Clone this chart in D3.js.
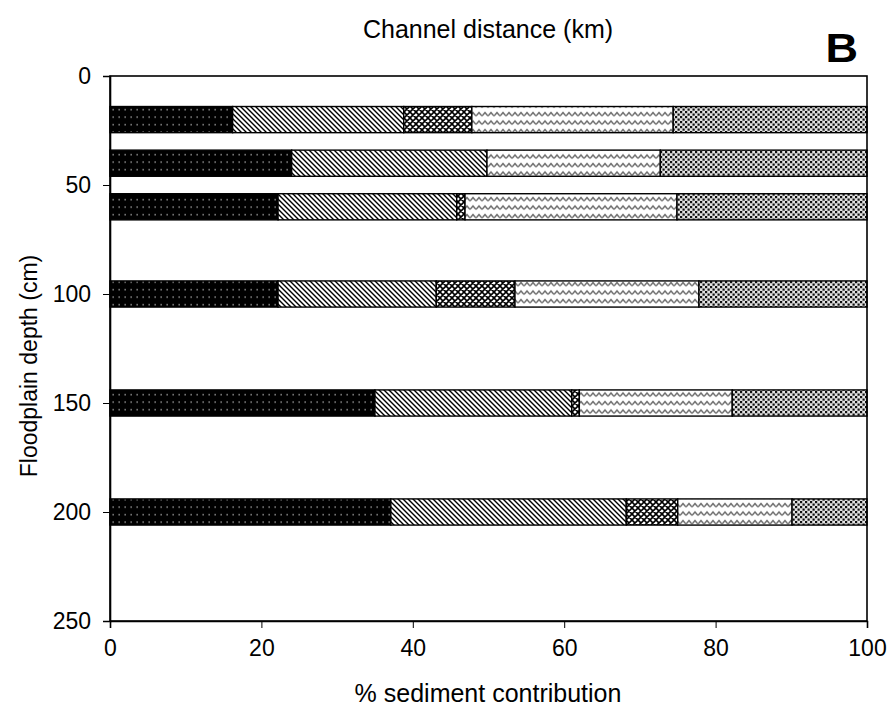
<!DOCTYPE html>
<html>
<head>
<meta charset="utf-8">
<script src="https://cdn.jsdelivr.net/npm/d3@7"></script>
<style>
  body { margin: 0; background: #fff; }
  text { font-family: Arial, "Liberation Sans", sans-serif; }
</style>
</head>
<body>
<div id="chart-area"></div>
<script>
// floodplain depth (cm) of each core sample
var depths = [20, 40, 60, 100, 150, 200];
// % sediment contribution of each source
var src1 = [16.2, 24.0, 22.2, 22.2, 35.0, 37.1];
var src2 = [22.6, 25.8, 23.6, 20.9, 26.0, 31.1];
var src3 = [9.0, 0.0, 1.1, 10.4, 1.0, 6.8];
var src4 = [26.6, 22.9, 28.0, 24.3, 20.2, 15.1];
var src5 = [25.6, 27.3, 25.1, 22.2, 17.8, 9.9];
var xTicks = [0, 20, 40, 60, 80, 100];
var yTicks = [0, 50, 100, 150, 200, 250];

var keys = ["s1", "s2", "s3", "s4", "s5"];
var table = depths.map(function(d, i) {
  return {depth: d, s1: src1[i], s2: src2[i], s3: src3[i], s4: src4[i], s5: src5[i]};
});

var margin = {top: 76, right: 21, bottom: 92, left: 110},
    width = 888 - margin.left - margin.right,
    height = 713 - margin.top - margin.bottom;

var svg = d3.select("#chart-area")
  .append("svg")
    .attr("width", 888)
    .attr("height", 713);

// fill patterns
var defs = svg.append("defs");

var p1 = defs.append("pattern").attr("id", "pat-s1")
  .attr("patternUnits", "userSpaceOnUse").attr("width", 6).attr("height", 7.5);
p1.append("rect").attr("width", 6).attr("height", 7.5).attr("fill", "#000");
p1.append("rect").attr("x", 2.5).attr("y", 3).attr("width", 1.3).attr("height", 1.3).attr("fill", "#bbb");

var p2 = defs.append("pattern").attr("id", "pat-s2")
  .attr("patternUnits", "userSpaceOnUse").attr("width", 5).attr("height", 5);
p2.append("rect").attr("width", 5).attr("height", 5).attr("fill", "#fff");
p2.append("path").attr("d", "M-1,-1L6,6M-1,4L1,6M4,-1L6,1")
  .attr("stroke", "#000").attr("stroke-width", 1.4);

var p3 = defs.append("pattern").attr("id", "pat-s3")
  .attr("patternUnits", "userSpaceOnUse").attr("width", 6).attr("height", 6);
p3.append("rect").attr("width", 6).attr("height", 6).attr("fill", "#fff");
p3.append("path").attr("d", "M-1,-1L7,7M-1,7L7,-1M-1,5L1,7M5,-1L7,1M-1,1L1,-1M5,7L7,5")
  .attr("stroke", "#000").attr("stroke-width", 1.6);

var p4 = defs.append("pattern").attr("id", "pat-s4")
  .attr("patternUnits", "userSpaceOnUse").attr("width", 6).attr("height", 8.5);
p4.append("rect").attr("width", 6).attr("height", 8.5).attr("fill", "#fff");
p4.append("path").attr("d", "M0,6L3,2.5L6,6")
  .attr("fill", "none").attr("stroke", "#666").attr("stroke-width", 1.5);

var p5 = defs.append("pattern").attr("id", "pat-s5")
  .attr("patternUnits", "userSpaceOnUse").attr("width", 5).attr("height", 5);
p5.append("rect").attr("width", 5).attr("height", 5).attr("fill", "#e2e2e2");
p5.append("rect").attr("x", 0).attr("y", 0).attr("width", 2.2).attr("height", 2.2).attr("fill", "#111");
p5.append("rect").attr("x", 2.5).attr("y", 2.5).attr("width", 2.2).attr("height", 2.2).attr("fill", "#111");

var g = svg.append("g")
  .attr("transform", "translate(" + margin.left + "," + margin.top + ")");

var x = d3.scaleLinear().domain([0, 100]).range([0, width]);
var y = d3.scaleLinear().domain([0, 250]).range([0, height]);
var barH = 12; // bar thickness in cm

var series = d3.stack().keys(keys)(table);

g.selectAll(".layer")
  .data(series)
  .enter()
  .append("g")
    .attr("class", "layer")
    .attr("fill", function(d) { return "url(#pat-" + d.key + ")"; })
  .selectAll("rect")
  .data(function(d) { return d.filter(function(v) { return v[1] - v[0] > 0; }); })
  .enter()
  .append("rect")
    .attr("x", function(d) { return x(d[0]); })
    .attr("y", function(d) { return y(d.data.depth - barH / 2); })
    .attr("width", function(d) { return x(d[1]) - x(d[0]); })
    .attr("height", function(d) { return y(barH) - y(0); })
    .attr("stroke", "#000")
    .attr("stroke-width", 1.4);

// frame
g.append("rect")
  .attr("width", width)
  .attr("height", height)
  .attr("fill", "none")
  .attr("stroke", "#000")
  .attr("stroke-width", 1.6);

var xAxis = g.append("g")
  .attr("transform", "translate(0," + height + ")")
  .call(d3.axisBottom(x).tickValues(xTicks).tickSize(7).tickPadding(12));
xAxis.select(".domain").attr("stroke-width", 1.6);
xAxis.selectAll("text").style("font-size", "23px").attr("fill", "#000");

var yAxis = g.append("g")
  .call(d3.axisLeft(y).tickValues(yTicks).tickSize(7).tickPadding(12));
yAxis.select(".domain").attr("stroke-width", 1.6);
yAxis.selectAll("text").style("font-size", "23px").attr("fill", "#000");

svg.append("text")
  .attr("x", 488)
  .attr("y", 38)
  .attr("text-anchor", "middle")
  .style("font-size", "25px")
  .text("Channel distance (km)");

svg.append("text")
  .attr("transform", "translate(858,62) scale(1.1,1)")
  .attr("text-anchor", "end")
  .style("font-size", "41px")
  .style("font-weight", "bold")
  .text("B");

svg.append("text")
  .attr("x", 488)
  .attr("y", 702)
  .attr("text-anchor", "middle")
  .style("font-size", "25px")
  .text("% sediment contribution");

svg.append("text")
  .attr("transform", "translate(37,366) rotate(-90)")
  .attr("text-anchor", "middle")
  .style("font-size", "23px")
  .text("Floodplain depth (cm)");
</script>
</body>
</html>
